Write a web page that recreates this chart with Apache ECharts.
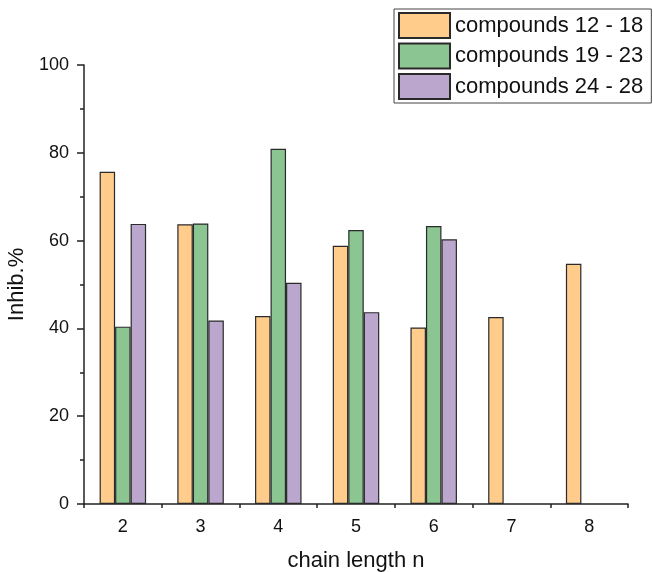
<!DOCTYPE html>
<html>
<head>
<meta charset="utf-8">
<script src="https://cdn.jsdelivr.net/npm/echarts@6/dist/echarts.min.js"></script>
<style>html,body{margin:0;padding:0;background:#fff}#c{width:653px;height:572px}</style>
</head>
<body>
<div id="c"></div>
<script>
const categories = ['2', '3', '4', '5', '6', '7', '8'];
const seriesNames = ['compounds 12 - 18', 'compounds 19 - 23', 'compounds 24 - 28'];
const orangeValues = [75.7, 63.7, 42.8, 58.8, 40.2, 42.6, 54.7];
const greenValues = [40.4, 63.9, 80.9, 62.4, 63.3, null, null];
const purpleValues = [63.8, 41.8, 50.4, 43.7, 60.3, null, null];
const yTicks = [0, 20, 40, 60, 80, 100];

const colors = ['#FFCC8C', '#8AC592', '#BBA6CD'];
const font = 'Liberation Sans, Arial, sans-serif';
const chart = echarts.init(document.getElementById('c'), null, {renderer: 'canvas'});
const values = [orangeValues, greenValues, purpleValues];

chart.setOption({
  animation: false,
  backgroundColor: '#fff',
  textStyle: {fontFamily: font, color: '#111'},
  grid: {left: 84, right: 25, top: 65, bottom: 68, containLabel: false, outerBoundsMode: 'none'},
  legend: {
    orient: 'vertical',
    left: 394, top: 9,
    padding: [3, 8, 3, 4],
    itemWidth: 51, itemHeight: 25, itemGap: 3.5,
    icon: 'rect',
    borderColor: '#444', borderWidth: 1,
    textStyle: {fontSize: 22, color: '#111', fontFamily: font},
    data: seriesNames
  },
  xAxis: [{
    type: 'category',
    data: categories,
    boundaryGap: true,
    name: 'chain length n',
    nameLocation: 'middle',
    nameGap: 46,
    nameTextStyle: {fontSize: 22, color: '#111'},
    axisLine: {lineStyle: {color: '#222', width: 1.5}},
    axisTick: {alignWithLabel: true, length: 7, lineStyle: {color: '#222', width: 1.5}},
    axisLabel: {fontSize: 18, color: '#111', margin: 14},
    splitLine: {show: false}
  }, {
    type: 'category',
    data: categories,
    position: 'bottom',
    boundaryGap: true,
    axisLine: {show: false},
    axisTick: {show: true, length: 4, lineStyle: {color: '#222', width: 1.5}},
    axisLabel: {show: false},
    splitLine: {show: false}
  }],
  yAxis: {
    type: 'value',
    min: 0, max: 100, interval: 20,
    name: 'Inhib.%',
    nameLocation: 'middle',
    nameGap: 45,
    nameRotate: 90,
    nameTextStyle: {fontSize: 22, color: '#111'},
    axisLine: {show: true, lineStyle: {color: '#222', width: 1.5}},
    axisTick: {show: true, length: 7, lineStyle: {color: '#222', width: 1.5}},
    minorTick: {show: true, splitNumber: 2, length: 4, lineStyle: {color: '#222', width: 1.5}},
    axisLabel: {fontSize: 18, color: '#111', margin: 15,
      formatter: v => yTicks.includes(v) ? String(v) : ''},
    splitLine: {show: false}
  },
  series: seriesNames.map((name, i) => ({
    name: name,
    type: 'bar',
    xAxisIndex: 0,
    data: values[i],
    barWidth: 15.5,
    barGap: '0%',
    itemStyle: {color: colors[i], borderColor: '#2a2a2a', borderWidth: 1.2}
  }))
});
</script>
</body>
</html>
